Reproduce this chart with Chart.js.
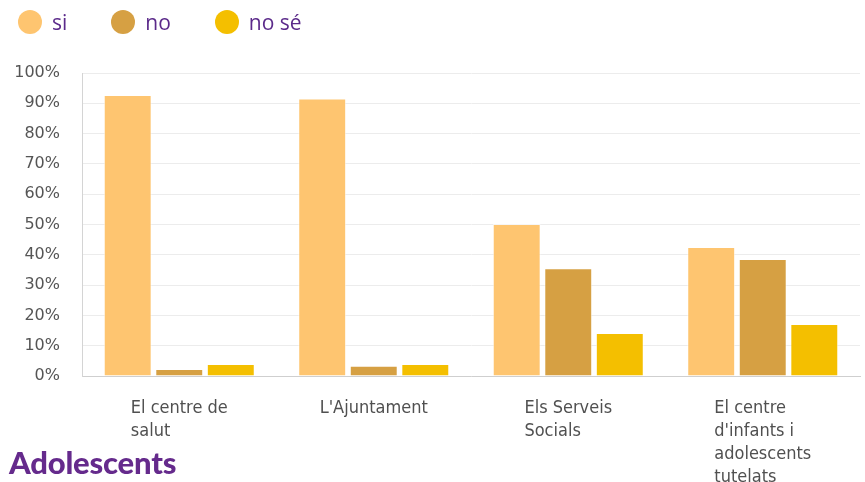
<!DOCTYPE html>
<html>
<head>
<meta charset="utf-8">
<script src="https://cdn.jsdelivr.net/npm/chart.js@4.4.0/dist/chart.umd.min.js"></script>
<style>
  html, body { margin: 0; padding: 0; background: #fff; }
  #wrap { position: relative; width: 865px; height: 482px; }
  #llegenda {
    position: absolute; left: 18px; top: 10px; display: flex; gap: 44px;
    font-family: "Open Sans", sans-serif; font-size: 21px; color: #5b2a8a;
  }
  #llegenda .item { display: flex; align-items: center; height: 24px; }
  #llegenda .punt { width: 24px; height: 24px; border-radius: 50%; margin-right: 10px; }
  #titol {
    position: absolute; left: 9px; top: 443px;
    font-family: Lato, "Open Sans", sans-serif; font-weight: 900;
    font-size: 31px; color: #652a8c; letter-spacing: -0.2px;
  }
</style>
</head>
<body>
<div id="wrap">
  <div id="llegenda"></div>
  <canvas id="grafic" width="865" height="482"></canvas>
  <div id="titol">Adolescents</div>
</div>
<script>
// categories (una línia per element)
const categories = [
  ["El centre de", "salut"],
  ["L'Ajuntament"],
  ["Els Serveis", "Socials"],
  ["El centre", "d'infants i", "adolescents", "tutelats"]
];
const etiquetes = ["si", "no", "no sé"];
const valorsSi = [92.7, 91.6, 50.2, 42.6];
const valorsNo = [2.3, 3.4, 35.6, 38.6];
const valorsNoSe = [4.0, 4.0, 14.2, 17.2];
const ticksY = [0, 10, 20, 30, 40, 50, 60, 70, 80, 90, 100];

const colors = ["#fec570", "#d6a043", "#f4bf00"];

// etiquetes de l'eix x alineades a l'esquerra dins del bloc
const etiquetesX = {
  id: "etiquetesX",
  afterDraw(chart) {
    const ctx = chart.ctx;
    const x = chart.scales.x;
    const baix = chart.chartArea.bottom;
    ctx.save();
    ctx.font = '18px "DejaVu Sans Condensed", "Liberation Sans Narrow", sans-serif';
    ctx.fillStyle = "#505050";
    ctx.textAlign = "left";
    ctx.textBaseline = "middle";
    categories.forEach((linies, i) => {
      const centre = x.getPixelForValue(i);
      const ample = Math.max(...linies.map((l) => ctx.measureText(l).width));
      linies.forEach((l, j) => {
        ctx.fillText(l, centre - ample / 2, baix + 32 + j * 23);
      });
    });
    ctx.restore();
  }
};

const datasets = [
  { label: etiquetes[0], data: valorsSi, backgroundColor: colors[0] },
  { label: etiquetes[1], data: valorsNo, backgroundColor: colors[1] },
  { label: etiquetes[2], data: valorsNoSe, backgroundColor: colors[2] }
].map((d) => ({
  ...d,
  borderColor: "rgba(255,255,255,0.55)",
  borderWidth: 1,
  categoryPercentage: 0.795,
  barPercentage: 0.93
}));

// llegenda en html
const llegenda = document.getElementById("llegenda");
datasets.forEach((d) => {
  const item = document.createElement("div");
  item.className = "item";
  const punt = document.createElement("span");
  punt.className = "punt";
  punt.style.background = d.backgroundColor;
  item.appendChild(punt);
  item.appendChild(document.createTextNode(d.label));
  llegenda.appendChild(item);
});

const ctx = document.getElementById("grafic").getContext("2d");
new Chart(ctx, {
  type: "bar",
  data: {
    labels: categories.map((c) => c.join(" ")),
    datasets: datasets
  },
  options: {
    responsive: false,
    animation: false,
    layout: { padding: { top: 73, left: 0, right: 5, bottom: 106 } },
    plugins: {
      tooltip: { enabled: false },
      legend: { display: false }
    },
    scales: {
      x: {
        grid: { display: false, drawTicks: false },
        border: { display: true, color: "#cfcfcf", width: 1 },
        ticks: { display: false }
      },
      y: {
        min: 0,
        max: 100,
        afterFit(scale) { scale.width = 82; },
        afterBuildTicks(scale) { scale.ticks = ticksY.map((v) => ({ value: v })); },
        grid: { color: "#ececec", drawTicks: false },
        border: { display: true, color: "#d4d4d4", width: 1 },
        ticks: {
          padding: 22,
          color: "#555",
          font: { family: '"DejaVu Sans", sans-serif', size: 16 },
          callback: (v) => v + "%"
        }
      }
    }
  },
  plugins: [etiquetesX]
});
</script>
</body>
</html>
